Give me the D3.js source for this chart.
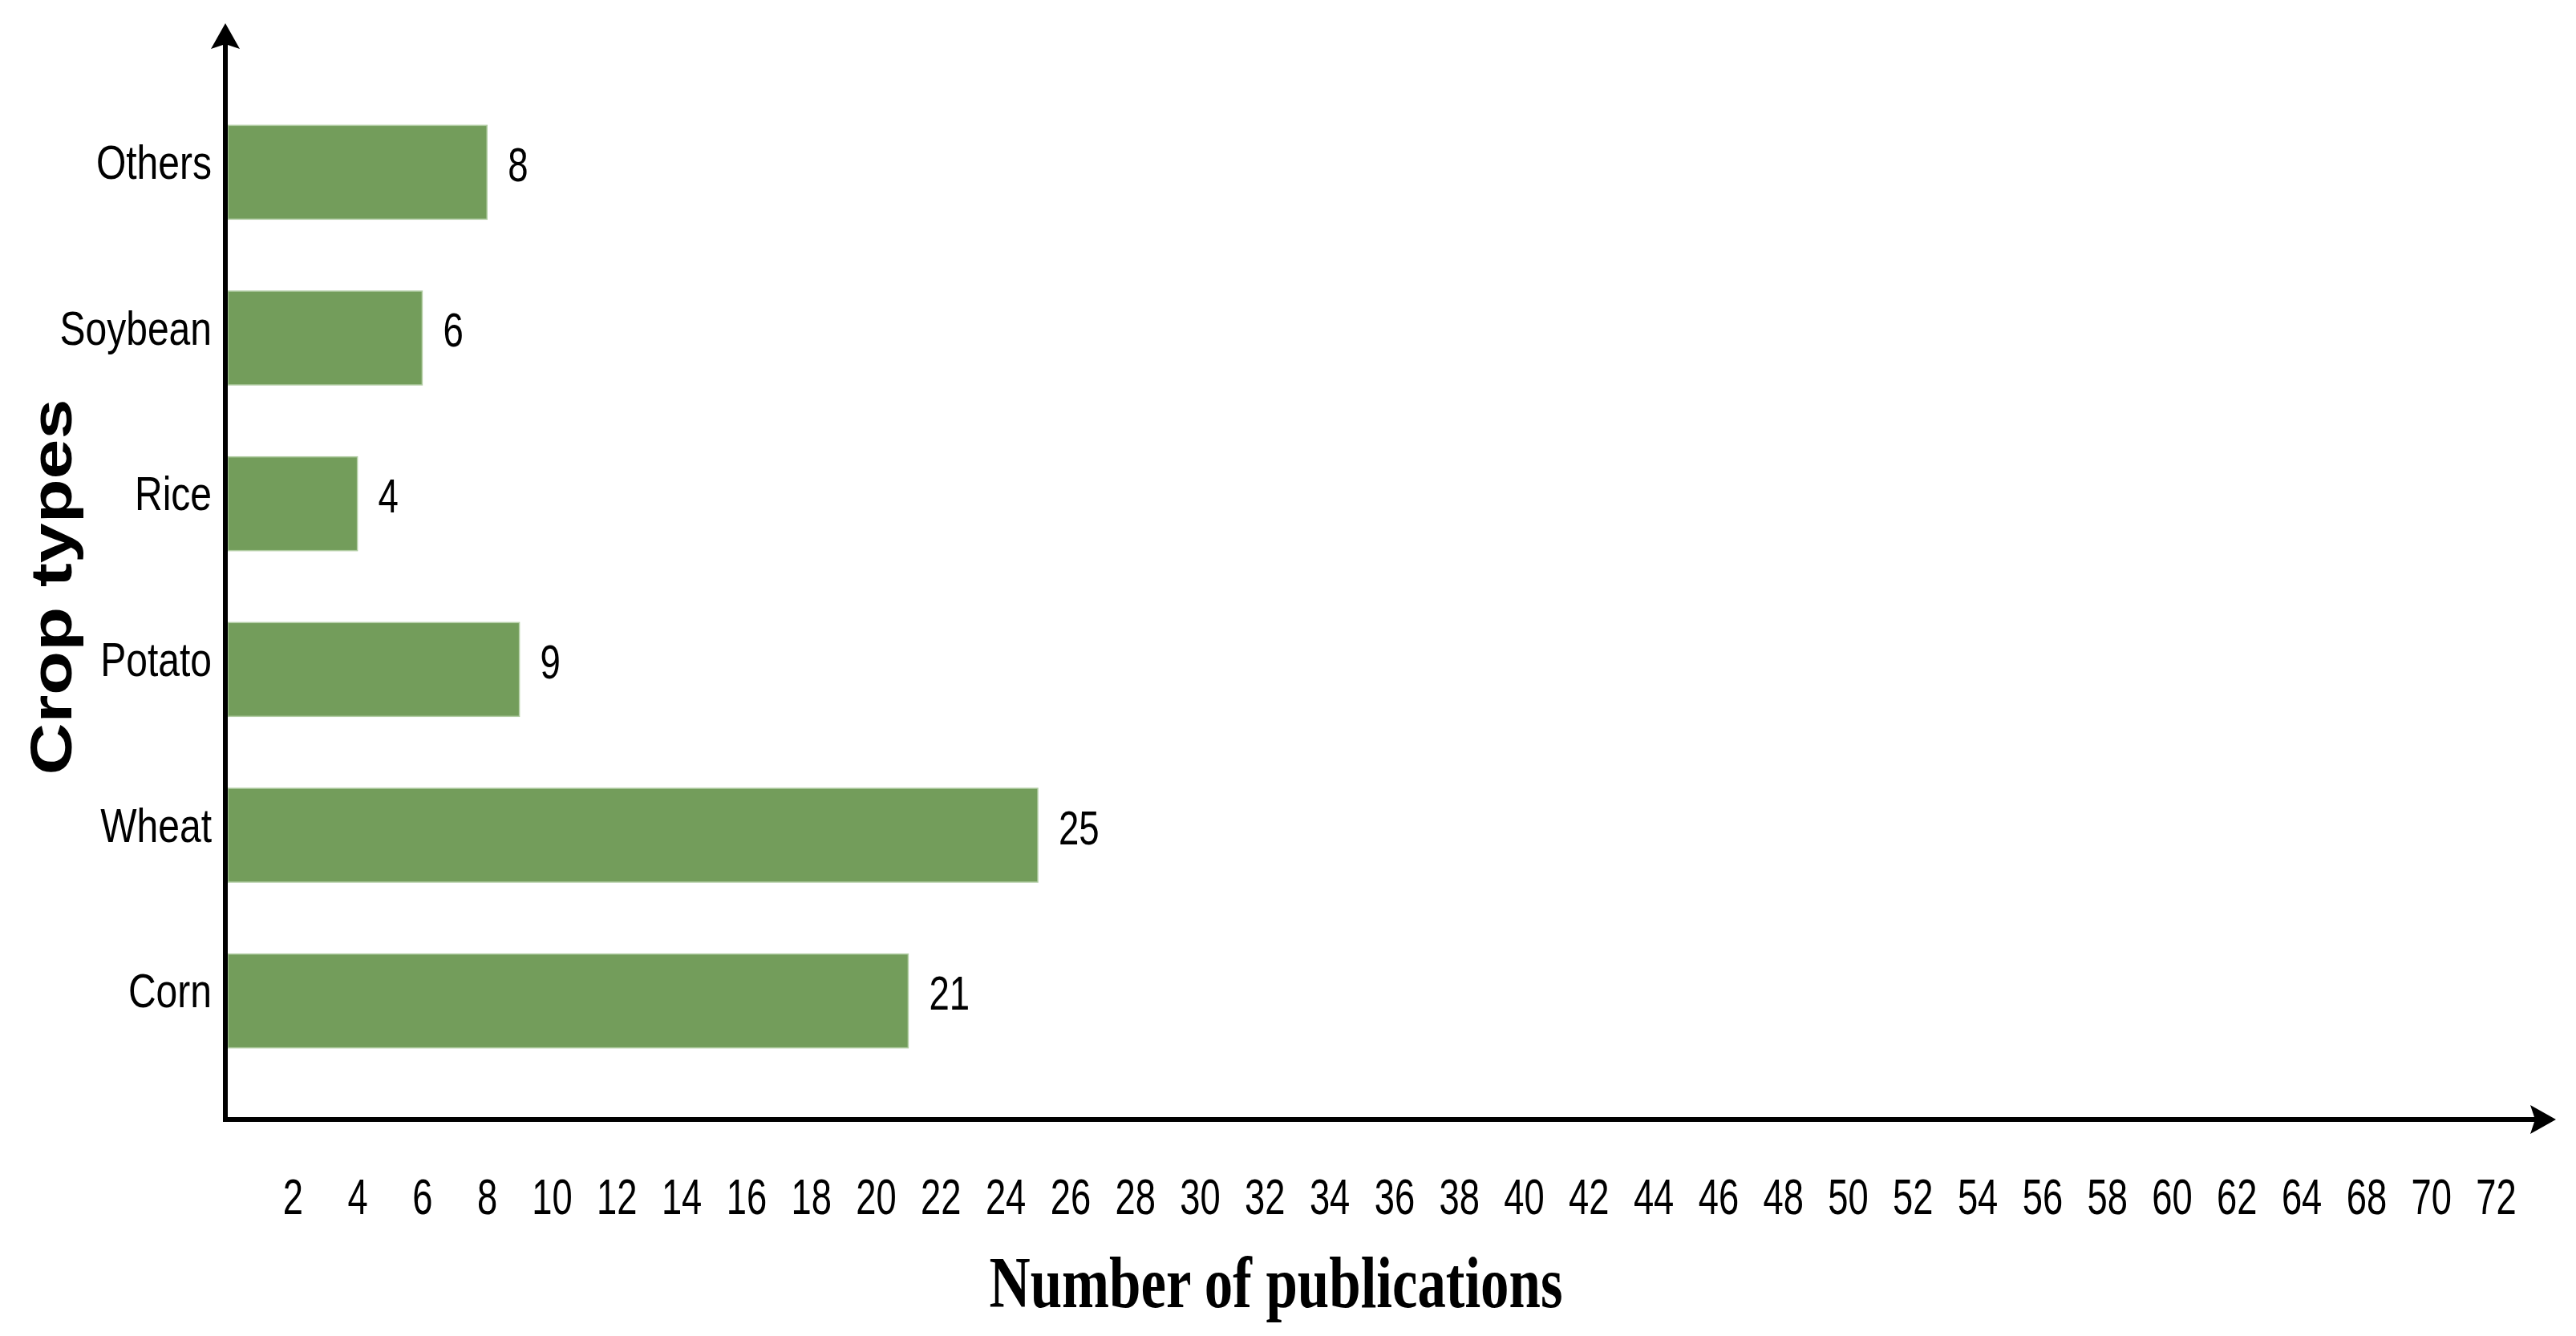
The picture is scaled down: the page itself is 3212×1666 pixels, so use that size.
<!DOCTYPE html>
<html>
<head>
<meta charset="utf-8">
<script src="https://cdn.jsdelivr.net/npm/d3@7"></script>
<style>
  html, body { margin: 0; padding: 0; background: #fff; }
  svg { display: block; }
</style>
</head>
<body>
<div id="chart"></div>
<script>
// Crop types vs number of publications

const categories = ['Others', 'Soybean', 'Rice', 'Potato', 'Wheat', 'Corn'];
const publications = [8, 6, 4, 9, 25, 21];

// tick slots on the axis and the labels printed under them (66 is skipped in the source)
const tickValues = d3.range(2, 71, 2);
const tickLabels = ['2', '4', '6', '8', '10', '12', '14', '16', '18', '20', '22', '24', '26',
    '28', '30', '32', '34', '36', '38', '40', '42', '44', '46', '48', '50', '52', '54',
    '56', '58', '60', '62', '64', '68', '70', '72'];

const xTitle = 'Number of publications';
const yTitle = 'Crop types';

const W = 3212, H = 1666;
const axisX = 281, axisY = 1396;
const sans = '"Liberation Sans", Arial, sans-serif';

const svg = d3.select('#chart')
    .append('svg')
    .attr('width', W)
    .attr('height', H)
    .attr('viewBox', `0 0 ${W} ${H}`);

svg.append('rect').attr('width', W).attr('height', H).attr('fill', '#fff');

const x = d3.scaleLinear()
    .domain([0, 70])
    .range([284, 3112]);

const y = d3.scaleBand()
    .domain(categories)
    .range([53, 1410])
    .paddingInner(0.434)
    .paddingOuter(0.5);

// Bars
svg.selectAll('.bar')
    .data(categories)
    .enter()
    .append('rect')
    .attr('class', 'bar')
    .attr('x', x(0))
    .attr('y', d => y(d))
    .attr('width', (d, i) => x(publications[i]) - x(0))
    .attr('height', y.bandwidth())
    .attr('fill', '#739d5b')
    .attr('stroke', '#b2cda4')
    .attr('stroke-width', 1.5);

// Value labels
svg.selectAll('.value-label')
    .data(categories)
    .enter()
    .append('text')
    .attr('class', 'value-label')
    .attr('transform', (d, i) => `translate(${x(publications[i]) + 26},${y(d) + y.bandwidth() / 2 + 11}) scale(0.76,1)`)
    .style('font-family', sans)
    .style('font-size', '60px')
    .style('fill', '#000')
    .text((d, i) => publications[i]);

// X axis labels
const xAxis = svg.append('g')
    .attr('transform', `translate(0,${axisY})`)
    .call(d3.axisBottom(x)
        .tickValues(tickValues)
        .tickFormat((d, i) => tickLabels[i])
        .tickSize(0));
xAxis.select('.domain').remove();
xAxis.selectAll('text')
    .attr('y', 118)
    .attr('dy', null)
    .attr('transform', 'scale(0.72,1)')
    .style('font-family', sans)
    .style('font-size', '63px')
    .style('fill', '#000');

// Y axis labels
const yAxis = svg.append('g')
    .attr('transform', `translate(${axisX},0)`)
    .call(d3.axisLeft(y).tickSize(0));
yAxis.select('.domain').remove();
yAxis.selectAll('text')
    .attr('x', 0)
    .attr('y', 8)
    .attr('dy', null)
    .attr('transform', 'translate(-17,0) scale(0.8,1)')
    .style('font-family', sans)
    .style('font-size', '60px')
    .style('fill', '#000');

// Axis lines with arrow heads
function arrowHead(tipX, tipY, angle) {
    const len = 32, half = 18, notch = 6;
    const pts = [[0, 0], [-len, -half], [-len + notch, 0], [-len, half]];
    const c = Math.cos(angle), s = Math.sin(angle);
    const p = pts.map(([px, py]) => [tipX + px * c - py * s, tipY + px * s + py * c]);
    return 'M' + p.map(q => q.join(',')).join('L') + 'Z';
}

svg.append('line')
    .attr('x1', axisX).attr('y1', axisY + 3)
    .attr('x2', axisX).attr('y2', 50)
    .attr('stroke', '#000')
    .attr('stroke-width', 6);
svg.append('path')
    .attr('d', arrowHead(axisX, 29, -Math.PI / 2))
    .attr('fill', '#000');

svg.append('line')
    .attr('x1', axisX - 3).attr('y1', axisY)
    .attr('x2', 3165).attr('y2', axisY)
    .attr('stroke', '#000')
    .attr('stroke-width', 6);
svg.append('path')
    .attr('d', arrowHead(3187, axisY, 0))
    .attr('fill', '#000');

// Titles
svg.append('text')
    .attr('transform', 'translate(1591,1630) scale(0.77,1)')
    .attr('text-anchor', 'middle')
    .style('font-family', '"Liberation Serif", "Times New Roman", serif')
    .style('font-weight', 'bold')
    .style('font-size', '92px')
    .style('fill', '#000')
    .text(xTitle);

svg.append('text')
    .attr('transform', 'translate(89,732) rotate(-90) scale(1.23,1)')
    .attr('text-anchor', 'middle')
    .style('font-family', sans)
    .style('font-weight', 'bold')
    .style('font-size', '73px')
    .style('fill', '#000')
    .text(yTitle);
</script>
</body>
</html>
